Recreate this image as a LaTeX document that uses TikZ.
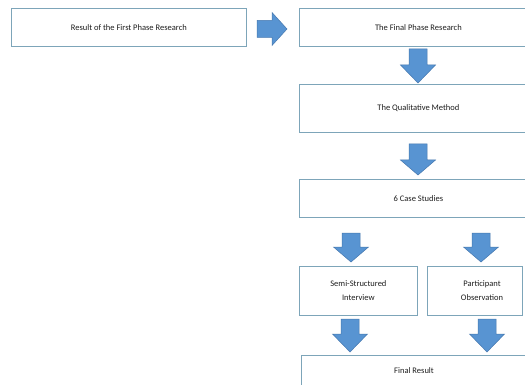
\documentclass[tikz,border=0pt]{standalone}
\usepackage{fontspec}
\setmainfont{Carlito}
\definecolor{boxline}{RGB}{125,165,185}
\definecolor{arrfill}{RGB}{88,148,210}
\definecolor{arrline}{RGB}{70,120,175}
\definecolor{txt}{RGB}{30,30,30}
\newcommand\dnarrow[4]{% cx, top, headstart, tip
  \fill[arrfill,draw=arrline,line width=0.5pt]
    (#1-9,#2) -- (#1+9,#2) -- (#1+9,#3) -- (#1+17.5,#3) -- (#1,#4)
    -- (#1-17.5,#3) -- (#1-9,#3) -- cycle;}
\begin{document}
\begin{tikzpicture}[x=1pt,y=-1pt,
  box/.style={draw=boxline,line width=0.8pt,fill=white,inner sep=0pt,anchor=north west,
    text=txt,font=\fontsize{8.5}{14}\selectfont,align=center},
  lbl/.style={text=txt,font=\fontsize{8.5}{14}\selectfont,align=center,inner sep=0pt}]
\clip (0,0) rectangle (525,385);
\fill[white] (0,0) rectangle (525,385);
\node[box,minimum width=235pt,minimum height=37.5pt] (b1) at (11,8.5) {Result of the First Phase Research};
\node[box,minimum width=238pt,minimum height=38pt] (b2) at (299,8) {The Final Phase Research};
\node[box,minimum width=238pt,minimum height=48pt] (b3) at (299,84) {The Qualitative Method};
\node[box,minimum width=238pt,minimum height=38pt] (b4) at (299,179) {6 Case Studies};
\node[box,minimum width=118pt,minimum height=49pt] (b5) at (299,266) {Semi-Structured\\Interview};
\node[box,minimum width=95pt,minimum height=49pt] (b6) at (427,266) {};
\node[lbl] (b6t) at (482,290.5) {Participant\\Observation};
\node[box,minimum width=229pt,minimum height=45pt] (b7) at (301,355) {};
\node[lbl] (b7t) at (414,371) {Final Result};
% right arrow
\fill[arrfill,draw=arrline,line width=0.5pt]
  (257,20.5) -- (272,20.5) -- (272,12.5) -- (287,29) -- (272,45.5) -- (272,37.5) -- (257,37.5) -- cycle;
\dnarrow{418}{49}{65}{83}
\dnarrow{418}{144}{160}{175}
\dnarrow{351}{233}{247}{262}
\dnarrow{481}{233}{247}{262}
\dnarrow{350}{319}{334}{352}
\dnarrow{487}{319}{334}{352}
\end{tikzpicture}
\end{document}
